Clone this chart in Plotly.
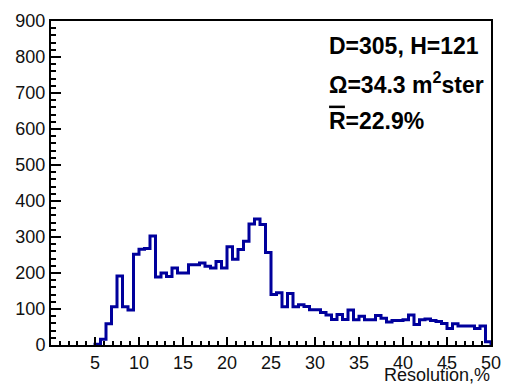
import plotly.graph_objects as go

# Histogram definition
x_min = 0.0
x_max = 50.0
n_bins = 80
counts = [0, 0, 0, 0, 0, 0, 0, 0, 2, 16,
          59, 106, 192, 106, 97, 252, 266, 268, 303, 189,
          200, 190, 214, 200, 200, 223, 223, 228, 219, 214,
          232, 214, 273, 238, 265, 288, 336, 350, 335, 257,
          140, 145, 106, 143, 106, 112, 107, 98, 98, 90,
          83, 71, 85, 71, 97, 70, 80, 70, 70, 82,
          74, 64, 68, 68, 70, 83, 57, 70, 72, 68,
          65, 60, 46, 59, 53, 53, 53, 46, 53, 9]

x_ticks = [5, 10, 15, 20, 25, 30, 35, 40, 45, 50]
y_ticks = [0, 100, 200, 300, 400, 500, 600, 700, 800, 900]
info_lines = ["D=305, H=121", "\u03a9=34.3 m<sup>2</sup>ster", "R=22.9%"]
x_title = "Resolution,%"

bw = (x_max - x_min) / n_bins
edges = [x_min + i * bw for i in range(n_bins + 1)]
first = next(i for i, c in enumerate(counts) if c > 0)
xs = [edges[first]] + edges[first:] + [x_max]
ys = [0] + counts[first:] + [counts[-1], 0]

fig = go.Figure()
fig.add_trace(go.Scatter(x=xs, y=ys, mode="lines", line_shape="hv",
                         line=dict(color="#00009c", width=3),
                         hoverinfo="skip", showlegend=False))

font_main = "Liberation Sans, Arial, Helvetica, sans-serif"

fig.update_layout(
    width=512, height=384,
    margin=dict(l=51, r=11, t=17, b=35),
    paper_bgcolor="white", plot_bgcolor="white",
    font=dict(family=font_main, color="black", size=18),
    showlegend=False,
)
fig.update_xaxes(range=[x_min, x_max], showgrid=False, zeroline=False,
                 showline=True, linecolor="black", linewidth=2, mirror=True,
                 ticks="inside", ticklen=8, tickwidth=1.5, tickcolor="black",
                 tickvals=x_ticks, ticktext=[str(v) for v in x_ticks],
                 tickfont=dict(size=18, color="#111"),
                 minor=dict(ticks="inside", ticklen=4, dtick=1, tick0=0,
                            tickcolor="black", tickwidth=1.5, showgrid=False),
                 layer="above traces")
fig.update_yaxes(range=[0, 900], showgrid=False, zeroline=False,
                 showline=True, linecolor="black", linewidth=2, mirror=True,
                 ticks="inside", ticklen=10, tickwidth=1.5, tickcolor="black",
                 tickvals=y_ticks, ticktext=[str(v) for v in y_ticks],
                 tickfont=dict(size=18, color="#111"),
                 minor=dict(ticks="inside", ticklen=5, dtick=20, tick0=0,
                            tickcolor="black", tickwidth=1.5, showgrid=False),
                 layer="above traces")

# Axis title at bottom right
fig.add_annotation(text=x_title, xref="paper", yref="paper", x=1.0, y=-0.094,
                   xanchor="right", yanchor="middle", showarrow=False,
                   borderpad=0, font=dict(size=18, color="#111"))

# Info text block
line_y = [0.922, 0.81, 0.69]
for txt, yy in zip(info_lines, line_y):
    fig.add_annotation(text="<b>" + txt + "</b>", xref="paper", yref="paper",
                       x=0.627, y=yy, xanchor="left", yanchor="middle",
                       showarrow=False, font=dict(size=23, color="black"))
# overline for R
fig.add_shape(type="line", xref="paper", yref="paper",
              x0=0.632, x1=0.668, y0=0.735, y1=0.735,
              line=dict(color="black", width=2.5))

fig.write_html("out.html")
